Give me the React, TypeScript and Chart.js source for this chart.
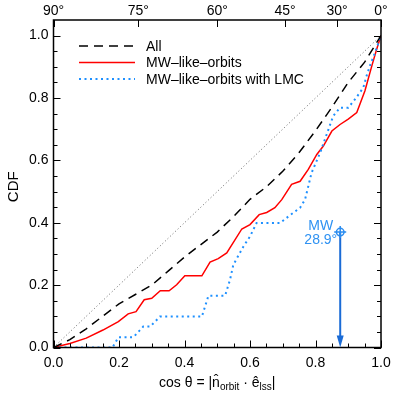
import React, { useEffect, useRef } from "react";
import { Chart, registerables } from "chart.js";

Chart.register(...registerables);

// ---- data ----
const diagX = [0, 1];
const diagY = [0, 1];

const allX = [0, 0.05, 0.1, 0.15, 0.2, 0.25, 0.3, 0.35, 0.4, 0.45, 0.5, 0.55, 0.6, 0.65, 0.7, 0.75, 0.8, 0.85, 0.9, 0.95, 1.0];
const allY = [0, 0.025, 0.06, 0.1, 0.14, 0.17, 0.2, 0.245, 0.29, 0.33, 0.37, 0.42, 0.475, 0.515, 0.565, 0.625, 0.695, 0.77, 0.85, 0.915, 1.0];

const mwX = [0, 0.05, 0.1, 0.151, 0.198, 0.228, 0.252, 0.277, 0.3, 0.326, 0.353, 0.376, 0.401, 0.453, 0.478, 0.503, 0.529, 0.575, 0.6, 0.628, 0.651, 0.676, 0.697, 0.727, 0.753, 0.778, 0.804, 0.824, 0.85, 0.875, 0.9, 0.926, 0.951, 0.972, 0.987, 1.0];
const mwY = [0, 0.013, 0.03, 0.056, 0.083, 0.108, 0.115, 0.153, 0.158, 0.182, 0.182, 0.201, 0.23, 0.23, 0.274, 0.285, 0.303, 0.38, 0.394, 0.426, 0.433, 0.448, 0.474, 0.523, 0.533, 0.571, 0.619, 0.646, 0.694, 0.715, 0.732, 0.753, 0.823, 0.903, 0.957, 1.0];

const lmcX = [0, 0.18, 0.198, 0.244, 0.274, 0.295, 0.325, 0.453, 0.473, 0.524, 0.539, 0.549, 0.58, 0.6, 0.62, 0.692, 0.717, 0.753, 0.768, 0.788, 0.814, 0.834, 0.854, 0.875, 0.9, 0.921, 0.946, 0.956, 0.966, 0.982, 1.0];
const lmcY = [0, 0, 0.033, 0.033, 0.067, 0.067, 0.099, 0.099, 0.166, 0.166, 0.217, 0.265, 0.324, 0.356, 0.399, 0.399, 0.42, 0.448, 0.474, 0.56, 0.624, 0.683, 0.742, 0.769, 0.769, 0.796, 0.833, 0.871, 0.903, 0.946, 1.0];

const mwAngleDeg = 28.9;
const mwMarkerY = 0.37;

const bottomTicks = [0, 0.2, 0.4, 0.6, 0.8, 1.0];
const leftTicks = [0, 0.2, 0.4, 0.6, 0.8, 1.0];
const topAngles = [90, 75, 60, 45, 30, 0];

const legendLabels = ["All", "MW\u2013like\u2013orbits", "MW\u2013like\u2013orbits with LMC"];

const FONT = "'Liberation Sans', Arial, Helvetica, sans-serif";
const BLUE_TEXT = "#2f92f2";
const BLUE_LINE = "#1a6bd6";

const pts = (xs: number[], ys: number[]) => xs.map((x, i) => ({ x, y: ys[i] }));

const framePlugin = {
  id: "framePlugin",
  afterDatasetsDraw(chart: any) {
    const ctx = chart.ctx;
    const { left, right, top, bottom } = chart.chartArea;
    const xs = chart.scales.x;
    const ys = chart.scales.y;
    ctx.save();
    // ticks
    ctx.strokeStyle = "#000";
    ctx.lineWidth = 1;
    ctx.beginPath();
    for (let i = 0; i <= 20; i++) {
      const v = i * 0.05;
      const major = i % 4 === 0;
      const len = major ? 7 : 4;
      const px = Math.round(xs.getPixelForValue(v)) + 0.5;
      ctx.moveTo(px, bottom);
      ctx.lineTo(px, bottom - len);
      const py = Math.round(ys.getPixelForValue(v)) + 0.5;
      ctx.moveTo(left, py);
      ctx.lineTo(left + len, py);
      ctx.moveTo(right, py);
      ctx.lineTo(right - len, py);
    }
    for (const a of topAngles) {
      const px = Math.round(xs.getPixelForValue(Math.cos((a * Math.PI) / 180))) + 0.5;
      ctx.moveTo(px, top);
      ctx.lineTo(px, top + 7);
    }
    ctx.stroke();
    // frame
    ctx.lineWidth = 1.5;
    ctx.strokeRect(left, top, right - left, bottom - top);

    // MW arrow
    const mc = Math.cos((mwAngleDeg * Math.PI) / 180);
    const mx = xs.getPixelForValue(mc);
    const my = ys.getPixelForValue(mwMarkerY);
    const my0 = ys.getPixelForValue(0);
    ctx.strokeStyle = BLUE_LINE;
    ctx.fillStyle = BLUE_LINE;
    ctx.lineWidth = 2;
    ctx.beginPath();
    ctx.moveTo(mx, my);
    ctx.lineTo(mx, my0 - 6);
    ctx.stroke();
    ctx.beginPath();
    ctx.moveTo(mx - 3.5, my0 - 12);
    ctx.lineTo(mx + 3.5, my0 - 12);
    ctx.lineTo(mx, my0);
    ctx.closePath();
    ctx.fill();
    // marker: circle with plus
    ctx.strokeStyle = "#2a8cf0";
    ctx.lineWidth = 1.5;
    ctx.beginPath();
    ctx.arc(mx, my, 3.8, 0, Math.PI * 2);
    ctx.stroke();
    ctx.beginPath();
    ctx.moveTo(mx - 6, my);
    ctx.lineTo(mx + 6, my);
    ctx.moveTo(mx, my - 6);
    ctx.lineTo(mx, my + 6);
    ctx.stroke();
    // MW label
    ctx.fillStyle = BLUE_TEXT;
    ctx.font = `14px ${FONT}`;
    ctx.textAlign = "right";
    ctx.textBaseline = "alphabetic";
    ctx.fillText("MW", mx - 7, my - 2);
    ctx.fillText(`${mwAngleDeg}\u00b0`, mx - 3, my + 12);

    // legend
    const lx0 = 79, lx1 = 135, tx = 146;
    const rowsY = [46, 62.5, 79];
    const styles = [
      { color: "#000", dash: [9, 6], w: 1.5 },
      { color: "#ff0000", dash: [], w: 1.5 },
      { color: "#1e90ff", dash: [2, 3.5], w: 2 },
    ];
    ctx.textAlign = "left";
    ctx.textBaseline = "middle";
    rowsY.forEach((ry, i) => {
      ctx.strokeStyle = styles[i].color;
      ctx.lineWidth = styles[i].w;
      ctx.setLineDash(styles[i].dash);
      ctx.beginPath();
      ctx.moveTo(lx0, ry);
      ctx.lineTo(lx1, ry);
      ctx.stroke();
      ctx.setLineDash([]);
      ctx.fillStyle = "#000";
      ctx.fillText(legendLabels[i], tx, ry + 1);
    });

    // axis titles
    ctx.fillStyle = "#000";
    ctx.save();
    ctx.translate(14, (top + bottom) / 2 + 3);
    ctx.rotate(-Math.PI / 2);
    ctx.textAlign = "center";
    ctx.textBaseline = "middle";
    ctx.font = `15px ${FONT}`;
    ctx.fillText("CDF", 0, 0);
    ctx.restore();

    const parts: [string, number, number][] = [
      ["cos \u03b8 = |", 14, 0],
      ["n\u0302", 14, 0],
      ["orbit", 10, 3],
      [" \u00b7 ", 14, 0],
      ["\u00ea", 14, 0],
      ["lss", 10, 3],
      ["|", 14, 0],
    ];
    let total = 0;
    for (const [t, s] of parts) {
      ctx.font = `${s}px ${FONT}`;
      total += ctx.measureText(t).width;
    }
    let x = (left + right) / 2 - total / 2;
    const base = 387;
    ctx.textAlign = "left";
    ctx.textBaseline = "alphabetic";
    for (const [t, s, dy] of parts) {
      ctx.font = `${s}px ${FONT}`;
      ctx.fillText(t, x, base + dy);
      x += ctx.measureText(t).width;
    }
    ctx.restore();
  },
};

export default function App() {
  const ref = useRef<HTMLCanvasElement>(null);
  useEffect(() => {
    if (!ref.current) return;
    const chart = new Chart(ref.current, {
      type: "line",
      data: {
        datasets: [
          { data: pts(diagX, diagY), borderColor: "#666", borderWidth: 1, borderDash: [1, 2.5], pointRadius: 0, xAxisID: "x", yAxisID: "y" },
          { data: pts(allX, allY), borderColor: "#000", borderWidth: 1.5, borderDash: [9, 6], pointRadius: 0, xAxisID: "x", yAxisID: "y" },
          { data: pts(lmcX, lmcY), borderColor: "#1e90ff", borderWidth: 2, borderDash: [2, 3.5], pointRadius: 0, xAxisID: "x", yAxisID: "y" },
          { data: pts(mwX, mwY), borderColor: "#ff0000", borderWidth: 1.5, pointRadius: 0, xAxisID: "x", yAxisID: "y" },
        ],
      },
      options: {
        responsive: false,
        animation: false,
        devicePixelRatio: 1,
        layout: { padding: { left: 0, right: 12, top: 0, bottom: 0 } },
        plugins: { legend: { display: false }, tooltip: { enabled: false } },
        elements: { line: { tension: 0 } },
        scales: {
          x: {
            type: "linear",
            position: "bottom",
            min: 0,
            max: 1,
            grid: { display: false, drawTicks: false },
            border: { display: false },
            afterBuildTicks: (s: any) => { s.ticks = bottomTicks.map((v) => ({ value: v })); },
            ticks: { color: "#000", font: { family: FONT, size: 14 }, padding: 7, maxRotation: 0, autoSkip: false, callback: (v: any) => Number(v).toFixed(1) },
            afterFit: (s: any) => { s.height = 45.5; s.paddingLeft = 0; s.paddingRight = 0; },
          },
          x2: {
            type: "linear",
            position: "top",
            min: 0,
            max: 1,
            grid: { display: false, drawTicks: false },
            border: { display: false },
            afterBuildTicks: (s: any) => { s.ticks = topAngles.map((a) => ({ value: Math.cos((a * Math.PI) / 180) })); },
            ticks: { color: "#000", font: { family: FONT, size: 14 }, padding: 0, maxRotation: 0, autoSkip: false, callback: (_v: any, i: number) => `${topAngles[i]}\u00b0` },
            afterFit: (s: any) => { s.height = 20; s.paddingLeft = 0; s.paddingRight = 0; },
          },
          y: {
            type: "linear",
            position: "left",
            min: 0,
            max: 1.05,
            grid: { display: false, drawTicks: false },
            border: { display: false },
            afterBuildTicks: (s: any) => { s.ticks = leftTicks.map((v) => ({ value: v })); },
            ticks: { color: "#000", font: { family: FONT, size: 14 }, padding: 5, autoSkip: false, callback: (v: any) => Number(v).toFixed(1) },
            afterFit: (s: any) => { s.width = 53.5; s.paddingTop = 0; s.paddingBottom = 0; },
          },
        },
      },
      plugins: [framePlugin],
    } as any);
    return () => chart.destroy();
  }, []);
  return (
    <div style={{ position: "fixed", left: 0, top: 0, width: 393, height: 393, background: "#fff" }}>
      <canvas ref={ref} width={393} height={393} style={{ display: "block" }} />
    </div>
  );
}
